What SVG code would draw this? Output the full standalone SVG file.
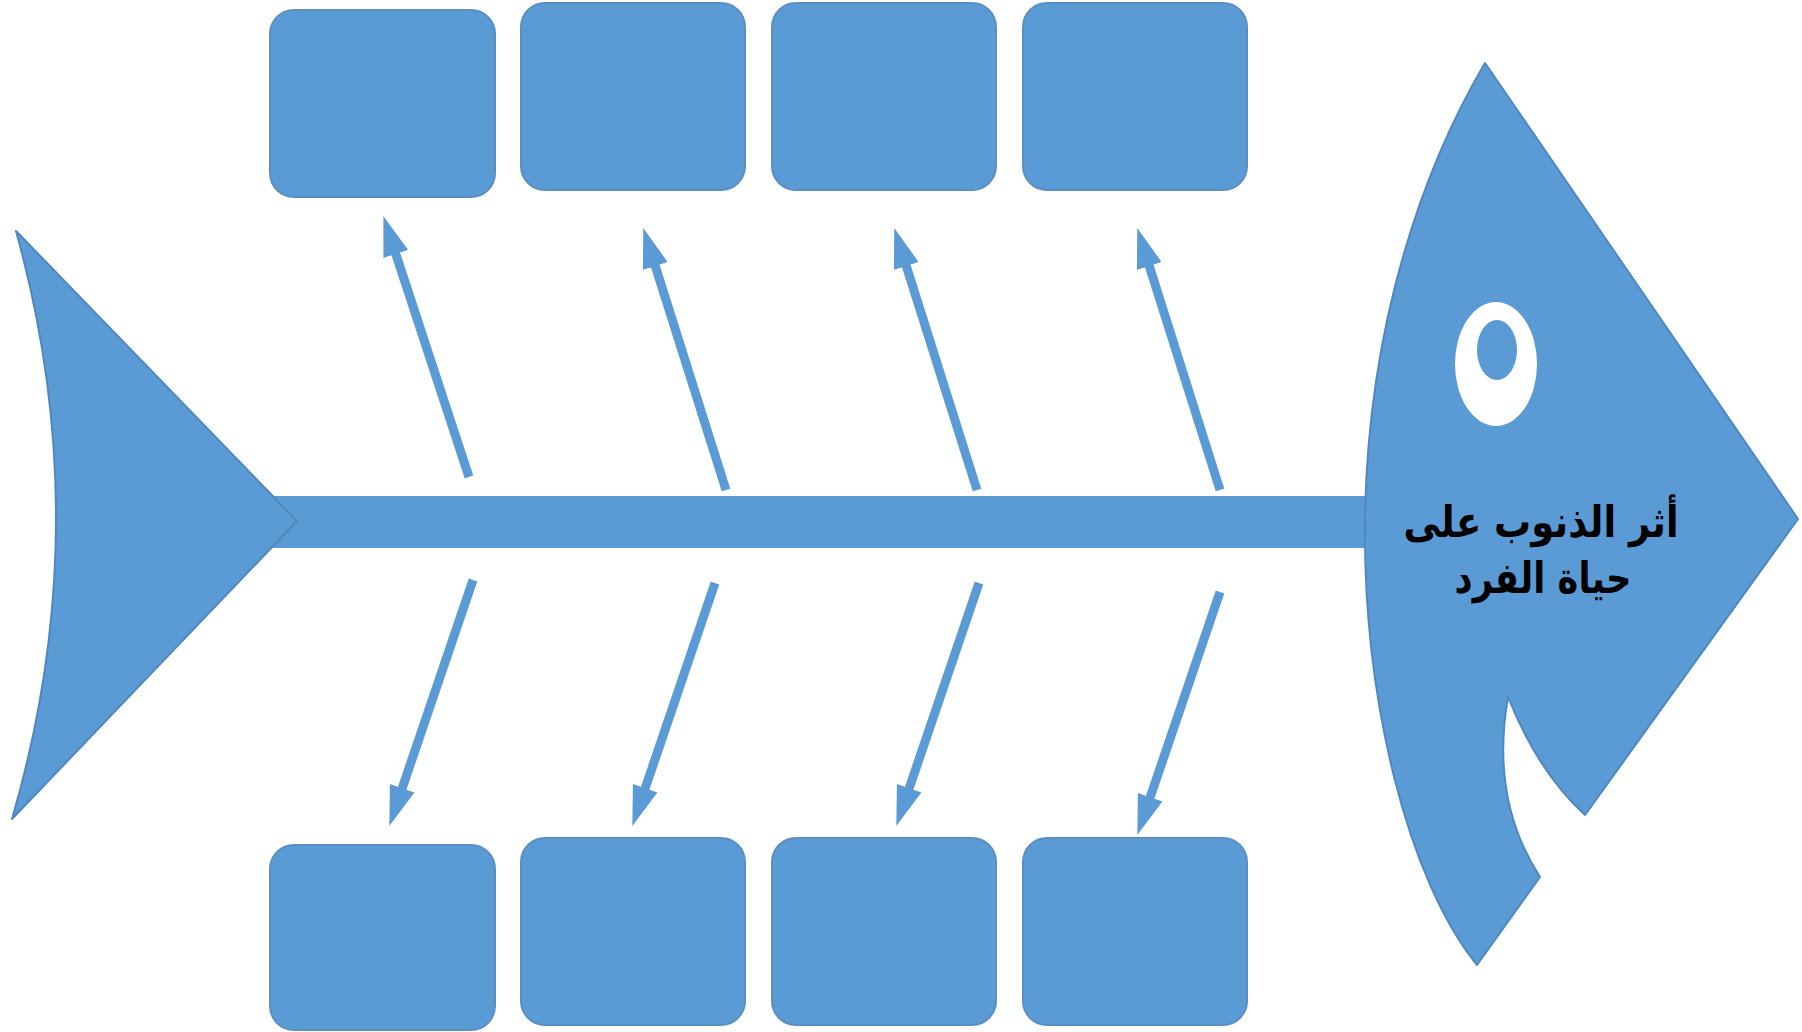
<svg xmlns="http://www.w3.org/2000/svg" width="1802" height="1032" viewBox="0 0 1802 1032">
<style>
.fill{fill:#5b9bd5;stroke:#4f88c0;stroke-width:2;stroke-linejoin:round}
.box{fill:#5b9bd5;stroke:#5a8fc4;stroke-width:2}
.bone{fill:none;stroke:#5b9bd5;stroke-width:9;stroke-linecap:butt;marker-end:url(#head)}
.label{font-family:"DejaVu Sans",sans-serif;font-weight:bold;font-size:43px;fill:#000;text-anchor:middle}
</style>
<defs>
<marker id="head" viewBox="0 -13 40 26" refX="1" refY="0" markerWidth="40" markerHeight="26" markerUnits="userSpaceOnUse" orient="auto">
<path d="M0,-13 L40,0 L0,13 Z" fill="#5b9bd5"/>
</marker>
</defs>
<rect width="1802" height="1032" fill="#ffffff"/>
<g id="spine">
<rect x="270" y="496" width="1120" height="52" fill="#5b9bd5"/>
</g>
<g id="tail">
<path class="fill" d="M16,231 L297,521 L12,819 Q98,525 16,231 Z"/>
</g>
<g id="fish-head">
<path class="fill" d="M1485,63 L1798,519 L1585,815 Q1538,772 1508,697 Q1490,800 1540,877 L1477,965 C1408,880 1363,700 1365,519 C1368,320 1425,165 1485,63 Z"/>
<ellipse cx="1496" cy="364" rx="41" ry="62" fill="#ffffff"/>
<ellipse cx="1497" cy="350" rx="20" ry="30" fill="#5b9bd5"/>
<text class="label" direction="rtl" transform="translate(1541 537) scale(0.86 1)">أثر الذنوب على</text>
<text class="label" direction="rtl" transform="translate(1543 593) scale(0.82 1)">حياة الفرد</text>
</g>
<g id="top-box-1"><rect class="box" x="270" y="10" width="225" height="187" rx="24"/></g>
<g id="top-box-2"><rect class="box" x="521" y="3" width="224" height="187" rx="24"/></g>
<g id="top-box-3"><rect class="box" x="772" y="3" width="224" height="187" rx="24"/></g>
<g id="top-box-4"><rect class="box" x="1023" y="3" width="224" height="187" rx="24"/></g>
<g id="bottom-box-1"><rect class="box" x="270" y="845" width="225" height="185" rx="24"/></g>
<g id="bottom-box-2"><rect class="box" x="521" y="838" width="224" height="187" rx="24"/></g>
<g id="bottom-box-3"><rect class="box" x="772" y="838" width="224" height="187" rx="24"/></g>
<g id="bottom-box-4"><rect class="box" x="1023" y="838" width="224" height="187" rx="24"/></g>
<g id="connectors">
<line class="bone" x1="469" y1="477" x2="395.5" y2="253"/>
<line class="bone" x1="726" y1="490" x2="655" y2="265.1"/>
<line class="bone" x1="977" y1="490" x2="906" y2="265.1"/>
<line class="bone" x1="1220" y1="490" x2="1149" y2="265.1"/>
<line class="bone" x1="473" y1="580" x2="401.9" y2="789.1"/>
<line class="bone" x1="715" y1="583" x2="644.9" y2="789.1"/>
<line class="bone" x1="979" y1="583" x2="908.9" y2="789.1"/>
<line class="bone" x1="1220" y1="592" x2="1149.9" y2="798.1"/>
</g>
</svg>
